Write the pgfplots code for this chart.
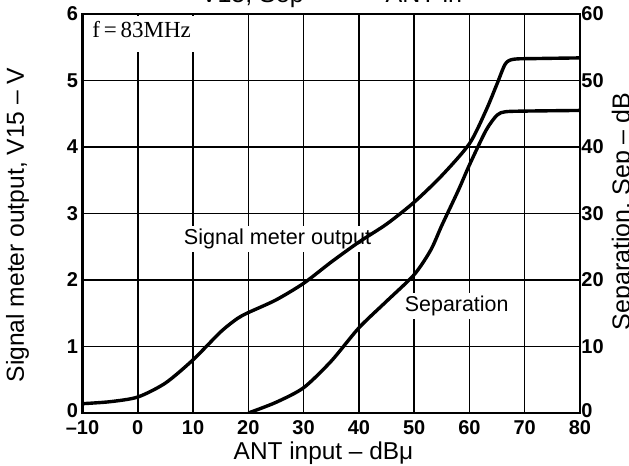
\documentclass[border=0pt]{standalone}
\usepackage{fontspec}
\setmainfont{Liberation Sans}
\newfontfamily\seriffont{Liberation Serif}
\usepackage{pgfplots}
\pgfplotsset{compat=1.18}
\begin{document}
\begin{tikzpicture}
\begin{axis}[
  at={(0,0)}, anchor=south west,
  scale only axis, width=248.75pt, height=199.5pt,
  xmin=-10, xmax=80, ymin=0, ymax=6,
  xtick={-10,0,10,20,30,40,50,60,70,80},
  xticklabels={–10,0,10,20,30,40,50,60,70,80},
  ytick={0,1,2,3,4,5,6},
  yticklabels={\raisebox{2pt}{0},1,2,3,4,5,6},
  grid=major, major grid style={black, line width=0.75pt},
  axis line style={line width=1.1pt},
  major tick length=0pt,
  tick label style={font=\fontsize{10}{10}\selectfont\bfseries},
  xticklabel style={inner sep=1.5pt, yshift=-2.3pt},
  yticklabel style={inner sep=2pt},
  /pgf/number format/assume math mode=true,
]
\fill[white] (rel axis cs:0,1) ++(1pt,-1pt) rectangle ++(60pt,-18pt);
\node[anchor=base west, inner sep=0pt, font=\seriffont\fontsize{11.5}{11.5}\selectfont] at (rel axis cs:0,1) [xshift=4.75pt, yshift=-11.5pt] {f\,=\,83MHz};
\node[fill=white, inner sep=1.5pt, font=\fontsize{10.8}{10.8}\selectfont] at (axis cs:25.3,2.62) {Signal meter output};
\node[fill=white, inner sep=1.5pt, font=\fontsize{10.7}{10.7}\selectfont] at (axis cs:57.7,1.61) {Separation};
\addplot[black, line width=1.7pt, smooth, tension=0.45] coordinates {
(-10,0.14) (-5,0.17) (0,0.24) (5,0.45) (10,0.8) (15,1.22) (18,1.42) (20,1.51)
(25,1.7) (30,1.95) (35,2.27) (40,2.57) (45,2.84) (50,3.17) (55,3.57) (60,4.05)
(63,4.55) (65,4.95) (66.5,5.25) (68,5.32) (72,5.33) (80,5.34)
};
\end{axis}
\begin{axis}[
  at={(0,0)}, anchor=south west,
  scale only axis, width=248.75pt, height=199.5pt,
  xmin=-10, xmax=80, ymin=0, ymax=60,
  axis x line=none, axis y line*=right,
  ytick={0,10,20,30,40,50,60},
  yticklabels={\raisebox{2pt}{0},10,20,30,40,50,60},
  axis line style={line width=1.1pt, -},
  major tick length=0pt,
  tick label style={font=\fontsize{10}{10}\selectfont\bfseries},
  yticklabel style={inner sep=0.5pt},
  /pgf/number format/assume math mode=true,
]
\addplot[black, line width=1.7pt, smooth, tension=0.45] coordinates {
(20,0) (25,1.6) (30,3.8) (35,7.8) (40,12.8) (45,16.8) (50,20.8) (53,24.5)
(55,28.2) (58,33.5) (60,37.3) (63,42.5) (65,44.8) (66.5,45.3) (70,45.4) (80,45.5)
};
\end{axis}
\node[anchor=base, font=\fontsize{12.5}{12.5}\selectfont] at (124.5pt,205pt) {V15, Sep \quad—\quad ANT in};
\node[rotate=90, anchor=base, font=\fontsize{12.3}{12.3}\selectfont] at (-29.25pt,94pt) {Signal meter output, V15 – V};
\node[anchor=base, font=\fontsize{12.2}{12.2}\selectfont] at (120.5pt,-23.3pt) {ANT input – dBμ};
\node[rotate=90, anchor=base, font=\fontsize{12.5}{12.5}\selectfont] at (273.75pt,100.75pt) {Separation, Sep – dB};
\pgfresetboundingbox
\useasboundingbox (-41.25pt,-26.5pt) rectangle (273.25pt,206.5pt);
\end{tikzpicture}
\end{document}
